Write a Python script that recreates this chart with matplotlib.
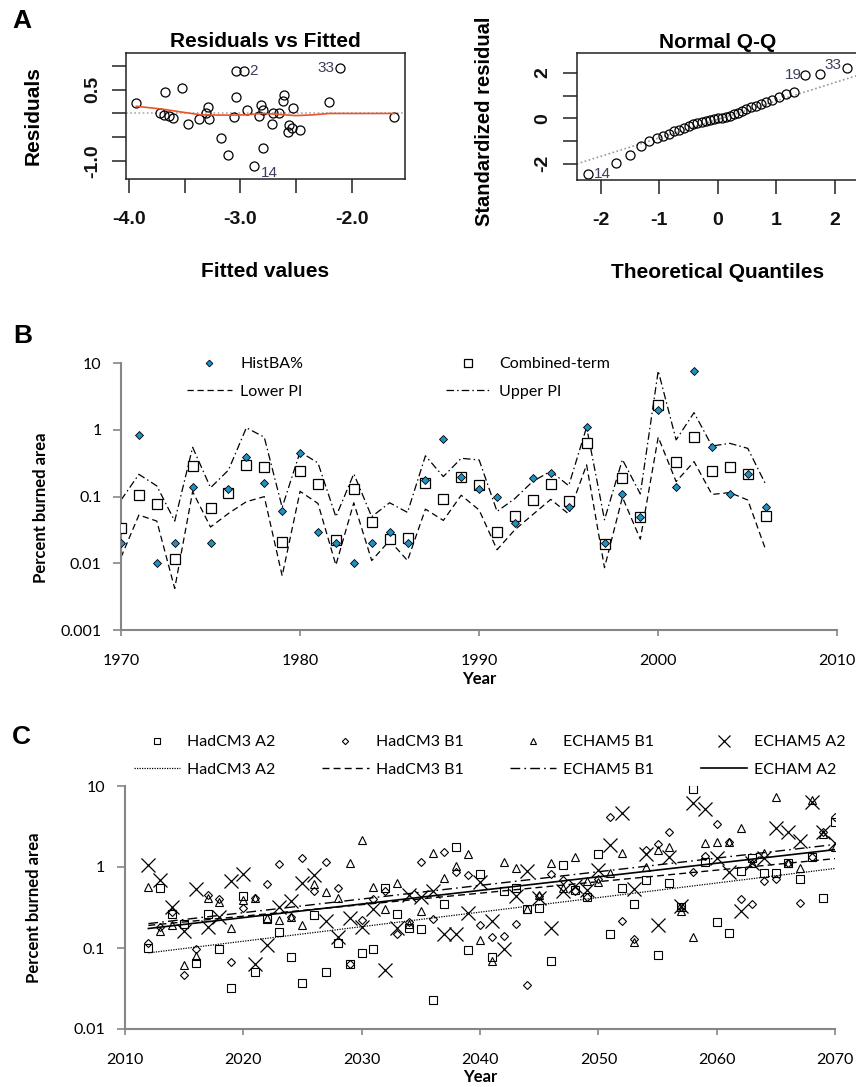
import numpy as np
import matplotlib.pyplot as plt
from matplotlib.ticker import NullLocator

plt.rcParams['font.family'] = 'Lato'
plt.rcParams['axes.unicode_minus'] = False

# ---------------- Panel A data (R diagnostics) ----------------
fitted = [-3.934, -3.677, -3.52, -3.725, -3.683, -3.644, -3.608, -3.474, -3.372, -3.294,
          -3.306, -3.277, -3.169, -3.112, -3.043, -2.966, -3.043, -3.061, -2.936, -2.876,
          -2.813, -2.828, -2.792, -2.795, -2.715, -2.708, -2.649, -2.61, -2.612, -2.559,
          -2.571, -2.535, -2.523, -2.463, -2.2, -2.105, -1.617]
resid = [0.224, 0.449, 0.533, 0.0, -0.035, -0.063, -0.098, -0.224, -0.126, 0.126,
         0.0, -0.112, -0.519, -0.876, 0.89, 0.89, 0.336, -0.084, 0.07, -1.107,
         0.168, -0.056, 0.063, -0.715, -0.217, 0.014, 0.0, 0.378, 0.252, -0.238,
         -0.392, -0.308, 0.112, -0.35, 0.245, 0.96, -0.084]
lowess_x = [-3.934, -3.7, -3.5, -3.35, -3.1, -2.95, -2.8, -2.65, -2.5, -2.35, -2.2, -1.617]
lowess_y = [0.15, 0.09, 0.02, -0.03, -0.035, -0.03, 0.0, -0.02, -0.045, -0.03, 0.0, 0.0]

qq_theor = [-2.21, -1.745, -1.494, -1.313, -1.167, -1.043, -0.932, -0.832, -0.74, -0.653,
            -0.572, -0.493, -0.418, -0.345, -0.274, -0.204, -0.136, -0.068, 0.0, 0.068,
            0.136, 0.204, 0.274, 0.345, 0.418, 0.493, 0.572, 0.653, 0.74, 0.832,
            0.932, 1.043, 1.167, 1.313, 1.494, 1.745, 2.21]
qq_std = [-2.47, -1.99, -1.62, -1.22, -1.0, -0.88, -0.78, -0.68, -0.58, -0.5,
          -0.42, -0.34, -0.27, -0.22, -0.17, -0.12, -0.07, -0.03, 0.0, 0.03,
          0.07, 0.12, 0.18, 0.25, 0.32, 0.4, 0.48, 0.56, 0.64, 0.72,
          0.82, 0.95, 1.08, 1.18, 1.91, 1.96, 2.24]
qq_line_x = [-2.41, 2.41]
qq_line_y = [-2.01, 1.91]

# ---------------- Panel B data ----------------
years_b = list(range(1970, 2007))
hist_ba = [0.02, 0.84, 0.01, 0.02, 0.14, 0.02, 0.13, 0.39, 0.16, 0.06,
           0.45, 0.03, 0.02, 0.01, 0.02, 0.03, 0.02, 0.18, 0.72, 0.20,
           0.13, 0.10, 0.04, 0.19, 0.23, 0.069, 1.1, 0.02, 0.11, 0.05,
           2.0, 0.14, 7.7, 0.55, 0.11, 0.22, 0.07]
combined = [0.034, 0.106, 0.077, 0.0116, 0.29, 0.068, 0.115, 0.30, 0.275, 0.021,
            0.24, 0.157, 0.022, 0.13, 0.042, 0.023, 0.024, 0.16, 0.091, 0.20,
            0.15, 0.03, 0.052, 0.089, 0.153, 0.087, 0.63, 0.0195, 0.19, 0.05,
            2.4, 0.335, 0.79, 0.24, 0.275, 0.22, 0.051]
upper_pi = [0.089, 0.216, 0.145, 0.043, 0.55, 0.136, 0.25, 1.08, 0.78, 0.069,
            0.47, 0.32, 0.05, 0.22, 0.05, 0.081, 0.058, 0.41, 0.20, 0.376,
            0.355, 0.06, 0.094, 0.17, 0.24, 0.146, 1.1, 0.045, 0.36, 0.11,
            7.7, 0.71, 1.82, 0.575, 0.63, 0.53, 0.153]
lower_pi = [0.0123, 0.053, 0.043, 0.0042, 0.119, 0.035, 0.056, 0.084, 0.10, 0.0065,
            0.12, 0.079, 0.0094, 0.081, 0.011, 0.022, 0.011, 0.065, 0.044, 0.105,
            0.063, 0.016, 0.032, 0.054, 0.091, 0.055, 0.30, 0.0086, 0.098, 0.023,
            0.78, 0.168, 0.335, 0.108, 0.115, 0.089, 0.016]

# ---------------- Panel C data ----------------
years_c = list(range(2012, 2071))
hadcm3_a2 = [0.10, 0.55, 0.265, 0.20, 0.065, 0.26, 0.096, 0.032, 0.44, 0.05,
             0.23, 0.156, 0.078, 0.037, 0.255, 0.05, 0.115, 0.063, 0.086, 0.098,
             0.556, 0.265, 0.178, 0.174, 0.023, 0.35, 1.78, 0.095, 0.82, 0.078,
             0.5, 0.55, 0.3, 0.31, 0.07, 1.06, 0.52, 0.43, 1.45, 0.149,
             0.555, 0.35, 0.69, 0.083, 0.63, 0.32, 9.2, 1.15, 0.21, 0.155,
             0.885, 1.28, 0.85, 0.85, 1.13, 0.72, 1.34, 0.42, 3.55]
hadcm3_b1 = [0.114, 0.18, 0.28, 0.046, 0.098, 0.45, 0.40, 0.067, 0.31, 0.42,
             0.62, 1.08, 0.244, 1.30, 0.50, 1.14, 0.55, 0.063, 0.222, 0.40,
             0.50, 0.15, 0.21, 1.14, 0.23, 1.55, 0.875, 0.79, 0.19, 0.135,
             0.14, 0.2, 0.035, 0.44, 0.83, 0.69, 0.5, 0.43, 0.72, 4.2,
             0.215, 0.13, 1.62, 1.94, 2.68, 0.32, 0.875, 1.37, 3.4, 2.06,
             0.4, 0.346, 0.68, 0.72, 1.13, 0.355, 1.34, 2.73, 4.1]
echam5_b1 = [0.57, 0.164, 0.19, 0.061, 0.08, 0.41, 0.37, 0.178, 0.39, 0.42,
             0.237, 0.224, 0.244, 0.19, 0.62, 0.49, 0.42, 1.12, 2.15, 0.57,
             0.306, 0.63, 0.2, 0.286, 1.5, 0.74, 1.03, 1.43, 0.126, 0.07,
             1.15, 0.96, 0.306, 0.45, 1.11, 0.556, 1.34, 0.68, 0.65, 0.84,
             1.5, 0.12, 0.99, 1.62, 1.78, 0.289, 0.138, 1.98, 2.05, 2.05,
             3.06, 1.11, 1.5, 7.24, 1.13, 0.98, 6.72, 2.55, 1.78]
echam5_a2 = [1.06, 0.69, 0.32, 0.16, 0.53, 0.18, 0.24, 0.67, 0.82, 0.063,
             0.108, 0.32, 0.38, 0.63, 0.79, 0.217, 0.138, 0.237, 0.18, 0.30,
             0.053, 0.175, 0.45, 0.43, 0.50, 0.147, 0.147, 0.273, 0.66, 0.217,
             0.096, 0.44, 0.89, 0.41, 0.175, 0.50, 0.59, 0.525, 0.92, 1.85,
             4.69, 0.53, 1.45, 0.19, 1.34, 0.33, 6.11, 5.2, 1.28, 0.875,
             0.286, 1.13, 1.30, 3.06, 2.68, 2.09, 6.29, 2.73, 1.96]
trend_years = [2012, 2070]
trend_hadcm3_a2 = [0.087, 0.96]
trend_hadcm3_b1 = [0.19, 1.27]
trend_echam5_b1 = [0.2, 1.9]
trend_echam_a2 = [0.174, 1.64]

W, H = 856, 1087
fig = plt.figure(figsize=(W / 100, H / 100), dpi=100)

RFONT = 'Liberation Sans'
GRAY = '#868686'


def box(l, t, r, b):
    return [l / W, 1 - b / H, (r - l) / W, (b - t) / H]


def r_style(ax):
    for s in ax.spines.values():
        s.set_linewidth(1.1)
        s.set_color('#222222')
    ax.tick_params(direction='out', length=10, width=1.1, color='#222222')
    ax.tick_params(axis='x', pad=13, labelsize=14)
    ax.tick_params(axis='y', pad=8, labelsize=14, labelrotation=90)
    for lab in ax.get_xticklabels() + ax.get_yticklabels():
        lab.set_fontfamily(RFONT)
        lab.set_fontweight('bold')
        lab.set_color('#111111')
    for lab in ax.get_yticklabels():
        lab.set_va('center')


# ---------------- Panel A left ----------------
axA1 = fig.add_axes(box(126, 52.7, 405, 179))
axA1.axhline(0, color='#aaaaaa', lw=1.2, ls=(0, (1, 1.5)))
axA1.plot(fitted, resid, 'o', ms=6.5, mfc='none', mec='black', mew=0.9)
axA1.plot(lowess_x, lowess_y, color='#e8552d', lw=1.2)
axA1.set_xlim(-4.027, -1.52)
axA1.set_ylim(-1.37, 1.27)
axA1.set_xticks([-4.0, -3.5, -3.0, -2.5, -2.0])
axA1.set_xticklabels(['-4.0', '', '-3.0', '', '-2.0'])
axA1.set_yticks([1.0, 0.5, 0.0, -0.5, -1.0])
axA1.set_yticklabels(['', '0.5', '', '', '-1.0'])
r_style(axA1)
axA1.set_title('Residuals vs Fitted', fontfamily=RFONT, fontweight='bold', fontsize=15, pad=4)
axA1.text(0.5, -0.73, 'Fitted values', transform=axA1.transAxes, ha='center', va='center',
          fontfamily=RFONT, fontweight='bold', fontsize=15)
fig.text(33 / W, 1 - 116 / H, 'Residuals', rotation=90, ha='center', va='center',
         fontfamily=RFONT, fontweight='bold', fontsize=15)
lab_kw = dict(textcoords='offset points', fontfamily=RFONT, fontsize=11, color='#3c3c5c')
axA1.annotate('2', (fitted[15], resid[15]), xytext=(4, 0), ha='left', va='center', **lab_kw)
axA1.annotate('33', (fitted[35], resid[35]), xytext=(-4, 0), ha='right', va='center', **lab_kw)
axA1.annotate('14', (fitted[19], resid[19]), xytext=(5, -5), ha='left', va='center', **lab_kw)

# ---------------- Panel A right ----------------
axA2 = fig.add_axes(box(576.7, 53.3, 858, 180))
axA2.plot(qq_line_x, qq_line_y, color='#999999', lw=1.2, ls=(0, (1, 1.5)))
axA2.plot(qq_theor, qq_std, 'o', ms=6.5, mfc='none', mec='black', mew=0.9)
axA2.set_xlim(-2.41, 2.40)
axA2.set_ylim(-2.72, 2.87)
axA2.set_xticks([-2, -1, 0, 1, 2])
axA2.set_xticklabels(['-2', '-1', '0', '1', '2'])
axA2.set_yticks([2, 1, 0, -1, -2])
axA2.set_yticklabels(['2', '', '0', '', '-2'])
r_style(axA2)
axA2.set_title('Normal Q-Q', fontfamily=RFONT, fontweight='bold', fontsize=15, pad=4)
axA2.text(0.5, -0.73, 'Theoretical Quantiles', transform=axA2.transAxes, ha='center', va='center',
          fontfamily=RFONT, fontweight='bold', fontsize=15)
fig.text(485 / W, 1 - 121 / H, 'Standardized residual', rotation=90, ha='center', va='center',
         fontfamily=RFONT, fontweight='bold', fontsize=14.5)
axA2.annotate('14', (qq_theor[0], qq_std[0]), xytext=(4, 0), ha='left', va='center', **lab_kw)
axA2.annotate('19', (qq_theor[34], qq_std[34]), xytext=(-2, 0), ha='right', va='center', **lab_kw)
axA2.annotate('33', (qq_theor[36], qq_std[36]), xytext=(-4, 2), ha='right', va='center', **lab_kw)


def excel_style(ax):
    ax.yaxis.set_minor_locator(NullLocator())
    for side in ['top', 'right']:
        ax.spines[side].set_visible(False)
    for side in ['left', 'bottom']:
        ax.spines[side].set_color(GRAY)
        ax.spines[side].set_linewidth(1.5)
    ax.tick_params(axis='y', direction='out', length=6, width=1.2, color=GRAY, pad=8,
                   labelsize=11.5)
    ax.tick_params(axis='x', direction='out', length=4, width=1.2, color=GRAY, pad=13,
                   labelsize=11.5)


# ---------------- Panel B ----------------
axB = fig.add_axes(box(121, 363.3, 837.3, 630))
axB.set_yscale('log')
axB.plot(years_b, lower_pi, color='black', lw=0.9, dashes=(5, 3), label='Lower PI')
axB.plot(years_b, upper_pi, color='black', lw=0.9, dashes=(6, 2.5, 1.2, 2.5), label='Upper PI')
axB.plot(years_b, combined, 's', ms=6.5, mfc='white', mec='black', mew=0.9,
         label='Combined-term', zorder=3)
axB.plot(years_b, hist_ba, 'D', ms=4.3, mfc='#1e90c4', mec='black', mew=0.6,
         label='HistBA%', zorder=4)
axB.set_xlim(1970, 2010)
axB.set_ylim(0.001, 10)
axB.set_xticks([1970, 1980, 1990, 2000, 2010])
axB.set_yticks([0.001, 0.01, 0.1, 1, 10])
axB.set_yticklabels(['0.001', '0.01', '0.1', '1', '10'])
excel_style(axB)
axB.set_ylabel('Percent burned area', fontweight='bold', fontsize=12)
axB.yaxis.set_label_coords(-0.101, 0.459)
axB.set_xlabel('Year', fontweight='bold', fontsize=12)
axB.xaxis.set_label_coords(0.5, -0.155)
hb, lb = axB.get_legend_handles_labels()
order = [3, 0, 2, 1]
fig.legend([hb[i] for i in order], [lb[i] for i in order], ncol=2, loc='upper left',
           bbox_to_anchor=(179 / W, 1 - 349 / H), frameon=False, borderpad=0,
           handlelength=2.8, handletextpad=0.55, columnspacing=8.9, labelspacing=0.85,
           markerscale=0.8, prop=dict(size=11.5))

# ---------------- Panel C ----------------
axC = fig.add_axes(box(124.7, 786, 835.3, 1029))
axC.set_yscale('log')
axC.plot(years_c, hadcm3_a2, 's', ms=5.8, mfc='none', mec='black', mew=0.8, label='HadCM3 A2')
axC.plot(trend_years, trend_hadcm3_a2, color='black', lw=0.9, ls=(0, (1, 1)), label='HadCM3 A2')
axC.plot(years_c, hadcm3_b1, 'D', ms=4.0, mfc='none', mec='black', mew=0.8, label='HadCM3 B1')
axC.plot(trend_years, trend_hadcm3_b1, color='black', lw=1.0, dashes=(5, 3), label='HadCM3 B1')
axC.plot(years_c, echam5_b1, '^', ms=6.0, mfc='none', mec='black', mew=0.8, label='ECHAM5 B1')
axC.plot(trend_years, trend_echam5_b1, color='black', lw=1.0, dashes=(7, 3, 1.2, 3), label='ECHAM5 B1')
axC.plot(years_c, echam5_a2, 'x', ms=10, mec='black', mew=0.9, label='ECHAM5 A2')
axC.plot(trend_years, trend_echam_a2, color='black', lw=1.2, label='ECHAM A2')
axC.set_xlim(2010, 2070)
axC.set_ylim(0.01, 10)
axC.set_xticks([2010, 2020, 2030, 2040, 2050, 2060, 2070])
axC.set_yticks([0.01, 0.1, 1, 10])
axC.set_yticklabels(['0.01', '0.1', '1', '10'])
excel_style(axC)
axC.set_ylabel('Percent burned area', fontweight='bold', fontsize=12)
axC.yaxis.set_label_coords(-0.117, 0.5)
axC.set_xlabel('Year', fontweight='bold', fontsize=12)
axC.xaxis.set_label_coords(0.5, -0.163)
hc, lc = axC.get_legend_handles_labels()
fig.legend(hc, lc, ncol=4, loc='upper left', bbox_to_anchor=(126 / W, 1 - 727 / H),
           frameon=False, borderpad=0, handlelength=2.9, handletextpad=0.45,
           columnspacing=2.9, labelspacing=0.86, markerscale=0.8,
           prop=dict(size=11.5))

# panel letters
for letter, x, y in [('A', 21.5, 21), ('B', 23, 336.5), ('C', 21.5, 736.5)]:
    fig.text(x / W, 1 - y / H, letter, ha='center', va='center', fontfamily=RFONT,
             fontweight='bold', fontsize=19)

fig.savefig('out.png', dpi=100)
